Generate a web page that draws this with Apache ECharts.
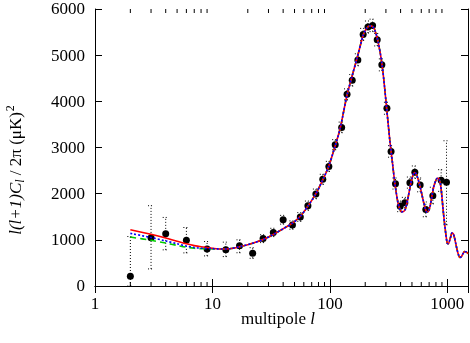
<!DOCTYPE html>
<html>
<head>
<meta charset="utf-8">
<script src="https://cdn.jsdelivr.net/npm/echarts@6/dist/echarts.min.js"></script>
<style>
  html, body { margin: 0; padding: 0; background: #fff; }
  #main { width: 470px; height: 343px; }
</style>
</head>
<body>
<div id="main"></div>
<script>
// multipoles of the measured band powers
const dataEll = [2, 3, 4, 6, 9, 13, 17, 22, 27, 33, 40, 48, 56, 65, 76, 87, 98, 111,
  126, 140, 155, 173, 192, 211, 231, 253, 277, 306, 332, 362, 397, 435, 480, 529,
  587, 656, 753, 886, 984];
const dataDl = [211, 1043, 1130, 993, 804, 783, 870, 711, 1028, 1159, 1435, 1319, 1493, 1739, 1993, 2311, 2587, 3058,
  3435, 4152, 4457, 4898, 5450, 5609, 5645, 5333, 4790, 3848, 2913, 2217, 1725, 1804, 2239, 2464,
  2188, 1659, 1957, 2290, 2246];
// error bar ends
const errLo = [0, 370, 783, 717, 652, 637, 720, 600, 940, 1070, 1340, 1230, 1400, 1640, 1890, 2200, 2480, 2950,
  3320, 4030, 4330, 4770, 5320, 5480, 5510, 5200, 4660, 3720, 2790, 2100, 1610, 1690, 2120, 2330,
  2040, 1500, 1780, 2050, 1326];
const errHi = [1072, 1739, 1485, 1267, 963, 950, 1000, 830, 1110, 1250, 1530, 1410, 1590, 1840, 2100, 2420, 2700, 3170,
  3550, 4270, 4580, 5030, 5580, 5740, 5780, 5470, 4920, 3980, 3040, 2340, 1840, 1920, 2360, 2600,
  2340, 1820, 2140, 2520, 3146];

// model curves: low multipoles differ, the rest is shared
const lowEll = [2, 3, 4, 5, 6, 7, 8, 10];
const redLow = [1220, 1120, 1040, 970, 915, 875, 850, 818];
const blueLow = [1140, 1050, 975, 915, 865, 835, 818, 810];
const greenLow = [1060, 990, 930, 880, 840, 818, 808, 805];
const curveEll = [12, 14, 17, 20, 22, 27, 33, 40, 48, 56, 65, 76, 87, 98, 111, 122, 139, 155, 171,
  192, 205, 219, 230, 240, 257, 279, 303, 324, 340, 357, 380, 395, 410, 435, 460, 480, 500,
  526, 545, 570, 592, 620, 645, 670, 695, 715, 740, 770, 800, 820, 840, 860, 880, 900, 925,
  950, 975, 1000, 1020, 1045, 1070, 1097, 1125, 1150, 1180, 1210, 1250, 1280, 1320, 1360,
  1400, 1450, 1500];
const curveDl = [800, 808, 850, 895, 925, 1005, 1115, 1240, 1360, 1510, 1730, 2000, 2300, 2600, 3040, 3400, 4100, 4560, 4950,
  5430, 5580, 5635, 5625, 5560, 5300, 4770, 3900, 3150, 2700, 2240, 1800, 1660, 1605, 1640, 1880, 2120, 2330,
  2460, 2420, 2270, 2110, 1880, 1710, 1600, 1630, 1740, 1950, 2170, 2290, 2335, 2330, 2280, 2160, 1930, 1600,
  1330, 1090, 920, 915, 980, 1070, 1155, 1130, 1050, 920, 790, 660, 616, 640, 700,
  745, 740, 700];

// tick labels
const xTickLabels = [1, 10, 100, 1000];
const yTickLabels = [0, 1000, 2000, 3000, 4000, 5000, 6000];
const xMinorTicks = [2, 3, 4, 5, 6, 7, 8, 9, 20, 30, 40, 50, 60, 70, 80, 90,
  200, 300, 400, 500, 600, 700, 800, 900];

const FONT = 'Liberation Serif';
const tickRich = { t: { fontFamily: FONT, fontSize: 17, fill: '#000' } };

function model(low) {
  const out = lowEll.map((l, i) => [l, low[i]]);
  curveEll.forEach((l, i) => out.push([l, curveDl[i]]));
  return out;
}

const chart = echarts.init(document.getElementById('main'), null, { renderer: 'canvas' });

function axis(extra) {
  return Object.assign({
    axisLine: { show: true, lineStyle: { color: '#000', width: 1 } },
    splitLine: { show: false },
    axisTick: { show: true, inside: true, length: 7, lineStyle: { color: '#000' } },
    axisLabel: { show: false }
  }, extra);
}

const option = {
  animation: false,
  backgroundColor: '#fff',
  grid: { left: 95, right: 2, top: 9, bottom: 57 },
  xAxis: [
    axis({ type: 'log', logBase: 10, min: 1, max: 1500, position: 'bottom' }),
    axis({ type: 'log', logBase: 10, min: 1, max: 1500, position: 'top' })
  ],
  yAxis: [
    axis({ type: 'value', min: 0, max: 6000, interval: 1000, position: 'left' }),
    axis({ type: 'value', min: 0, max: 6000, interval: 1000, position: 'right' })
  ],
  graphic: [
    {
      type: 'text', x: 17, y: 170, rotation: Math.PI / 2,
      style: {
        text: '{it|l(l+1)C}{sub|l}{n| / 2π (μK)}{sup|2}',
        align: 'center', verticalAlign: 'middle',
        rich: {
          it: { fontFamily: FONT, fontSize: 17, fontStyle: 'italic', lineHeight: 26, verticalAlign: 'middle', fill: '#000' },
          sub: { fontFamily: FONT, fontSize: 12, fontStyle: 'italic', lineHeight: 26, verticalAlign: 'bottom', padding: [0, 0, 3, 0], fill: '#000' },
          n: { fontFamily: FONT, fontSize: 17, lineHeight: 26, verticalAlign: 'middle', fill: '#000' },
          sup: { fontFamily: FONT, fontSize: 12, lineHeight: 26, verticalAlign: 'top', padding: [1, 0, 0, 1], fill: '#000' }
        }
      }
    },
    {
      type: 'text', x: 278, y: 320,
      style: {
        text: '{n|multipole }{it|l}',
        align: 'center', verticalAlign: 'middle',
        rich: {
          n: { fontFamily: FONT, fontSize: 17, fill: '#000' },
          it: { fontFamily: FONT, fontSize: 17, fontStyle: 'italic', fill: '#000' }
        }
      }
    }
  ],
  series: [
    {
      // minor ticks of the log axis, bottom and top
      type: 'custom',
      silent: true,
      data: xMinorTicks.map(v => [v, 0]),
      renderItem: function (params, api) {
        const v = api.value(0);
        const b = api.coord([v, 0]);
        const t = api.coord([v, 6000]);
        const st = { stroke: '#000', lineWidth: 1 };
        return {
          type: 'group',
          children: [
            { type: 'line', shape: { x1: b[0], y1: b[1], x2: b[0], y2: b[1] - 4 }, style: st },
            { type: 'line', shape: { x1: t[0], y1: t[1], x2: t[0], y2: t[1] + 4 }, style: st }
          ]
        };
      }
    },
    {
      // x tick labels
      type: 'custom',
      silent: true,
      data: xTickLabels.map(v => [v, 0]),
      renderItem: function (params, api) {
        const p = api.coord([api.value(0), 0]);
        return {
          type: 'text', x: p[0], y: p[1] + 10,
          style: {
            text: '{t|' + api.value(0) + '}', rich: tickRich,
            fontFamily: FONT, fontSize: 17, fill: '#000', align: 'center', verticalAlign: 'top'
          }
        };
      }
    },
    {
      // y tick labels
      type: 'custom',
      silent: true,
      data: yTickLabels.map(v => [1, v]),
      renderItem: function (params, api) {
        const p = api.coord([1, api.value(1)]);
        return {
          type: 'text', x: p[0] - 10, y: p[1] + 1,
          style: {
            text: '{t|' + api.value(1) + '}', rich: tickRich,
            fontFamily: FONT, fontSize: 17, fill: '#000', align: 'right', verticalAlign: 'middle'
          }
        };
      }
    },
    {
      name: 'green', type: 'line', data: model(greenLow), smooth: 0.3,
      showSymbol: false, symbol: 'none',
      lineStyle: { color: '#00cc00', width: 1.6, type: [6, 4] }
    },
    {
      name: 'red', type: 'line', data: model(redLow), smooth: 0.3,
      showSymbol: false, symbol: 'none',
      lineStyle: { color: '#ff0000', width: 1.6, type: 'solid' }
    },
    {
      name: 'blue', type: 'line', data: model(blueLow), smooth: 0.3,
      showSymbol: false, symbol: 'none',
      lineStyle: { color: '#0000ff', width: 1.6, type: [2, 2] }
    },
    {
      // error bars
      type: 'custom',
      silent: true,
      data: dataEll.map((l, i) => [l, errLo[i], errHi[i]]),
      renderItem: function (params, api) {
        const l = api.value(0);
        const lo = api.coord([l, api.value(1)]);
        const hi = api.coord([l, api.value(2)]);
        const st = { stroke: '#000', lineWidth: 1, lineDash: [1, 2] };
        return {
          type: 'group',
          children: [
            { type: 'line', shape: { x1: lo[0], y1: lo[1], x2: hi[0], y2: hi[1] }, style: st },
            { type: 'line', shape: { x1: hi[0] - 3, y1: hi[1], x2: hi[0] + 3, y2: hi[1] }, style: st },
            { type: 'line', shape: { x1: lo[0] - 3, y1: lo[1], x2: lo[0] + 3, y2: lo[1] }, style: st }
          ]
        };
      }
    },
    {
      type: 'scatter',
      data: dataEll.map((l, i) => [l, dataDl[i]]),
      symbol: 'circle', symbolSize: 7,
      itemStyle: { color: '#000', opacity: 1, borderWidth: 0 }
    }
  ]
};

chart.setOption(option);
</script>
</body>
</html>
